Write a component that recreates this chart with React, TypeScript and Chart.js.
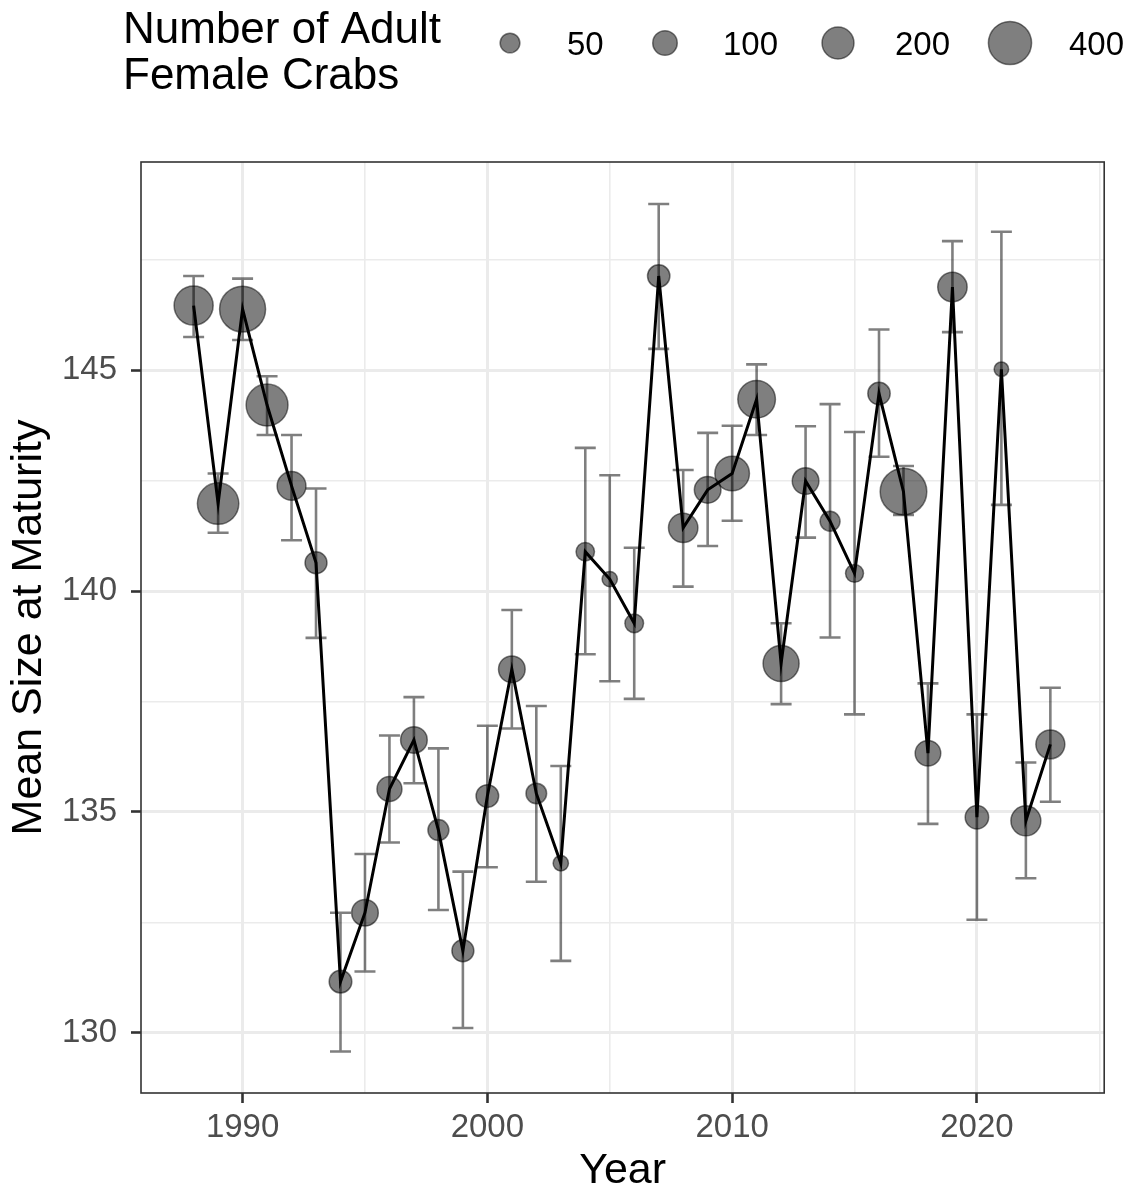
import React, { useEffect, useRef } from "react";
import { Chart, registerables } from "chart.js";

Chart.register(...registerables);

// ---------------- data ----------------
const years = [
  1988, 1989, 1990, 1991, 1992, 1993, 1994, 1995, 1996, 1997, 1998, 1999,
  2000, 2001, 2002, 2003, 2004, 2005, 2006, 2007, 2008, 2009, 2010, 2011,
  2012, 2013, 2014, 2015, 2016, 2017, 2018, 2019, 2020, 2021, 2022, 2023,
];
const meanSize = [
  146.46, 141.98, 146.38, 144.21, 142.38, 140.64, 131.16, 132.72, 135.52, 136.63, 134.59, 131.86,
  135.36, 138.23, 135.42, 133.84, 140.89, 140.27, 139.27, 147.13, 141.43, 142.29, 142.66, 144.34,
  138.36, 142.49, 141.58, 140.4, 144.47, 142.25, 136.33, 146.88, 134.88, 145.02, 134.8, 136.53,
];
const upperCI = [
  147.13, 142.66, 147.07, 144.86, 143.53, 142.32, 132.72, 134.05, 136.73, 137.6, 136.44, 133.65,
  136.95, 139.57, 137.4, 136.04, 143.24, 142.62, 140.98, 148.76, 142.74, 143.58, 143.74, 145.13,
  139.27, 143.73, 144.23, 143.6, 145.92, 142.83, 137.91, 147.92, 137.21, 148.13, 136.12, 137.81,
];
const lowerCI = [
  145.75, 141.32, 145.68, 143.53, 141.15, 138.94, 129.58, 131.39, 134.31, 135.65, 132.78, 130.11,
  133.75, 136.89, 133.42, 131.63, 138.57, 137.96, 137.56, 145.48, 140.1, 141.02, 141.59, 143.53,
  137.44, 141.21, 138.95, 137.21, 143.04, 141.72, 134.73, 145.86, 132.56, 141.95, 133.5, 135.23,
];
const crabCount = [
  320, 365, 460, 375, 155, 72, 79, 126, 106, 126, 62, 72,
  79, 126, 58, 13, 38, 13, 40, 76, 163, 126, 242, 294,
  266, 126, 52, 34, 76, 474, 113, 163, 88, 7, 171, 157,
];
const legendCounts = [50, 100, 200, 400];
const xMajorTicks = [1990, 2000, 2010, 2020];
const xMinorTicks = [1995, 2005, 2015, 2025];
const yMajorTicks = [130, 135, 140, 145];
const yMinorTicks = [132.5, 137.5, 142.5, 147.5];

// ---------------- style ----------------
const W = 1129;
const H = 1197;
const FONT = "'Liberation Sans', Arial, Helvetica, sans-serif";
const POINT_FILL = "rgba(0,0,0,0.5)";

function sizeToRadius(n: number) {
  return Math.sqrt(45 + 1.05 * n);
}

const errorBarPlugin = {
  id: "errorBars",
  beforeDatasetsDraw(chart: any) {
    const { ctx, chartArea } = chart;
    const xs = chart.scales.x;
    const ys = chart.scales.y;
    ctx.save();
    ctx.beginPath();
    ctx.rect(chartArea.left, chartArea.top, chartArea.right - chartArea.left, chartArea.bottom - chartArea.top);
    ctx.clip();
    ctx.strokeStyle = POINT_FILL;
    ctx.lineWidth = 2.6;
    ctx.lineCap = "butt";
    const half = 10.5;
    years.forEach((yr, i) => {
      const px = xs.getPixelForValue(yr);
      const pt = ys.getPixelForValue(upperCI[i]);
      const pb = ys.getPixelForValue(lowerCI[i]);
      ctx.beginPath();
      ctx.moveTo(px - half, pt);
      ctx.lineTo(px + half, pt);
      ctx.moveTo(px, pt);
      ctx.lineTo(px, pb);
      ctx.moveTo(px - half, pb);
      ctx.lineTo(px + half, pb);
      ctx.stroke();
    });
    ctx.restore();
  },
};

const panelBorderPlugin = {
  id: "panelBorder",
  afterDraw(chart: any) {
    const { ctx, chartArea } = chart;
    ctx.save();
    ctx.strokeStyle = "#333333";
    ctx.lineWidth = 1.6;
    ctx.strokeRect(chartArea.left, chartArea.top, chartArea.right - chartArea.left, chartArea.bottom - chartArea.top);
    ctx.restore();
  },
};

const legendKeyX = [510, 665, 838, 1010];
const legendLabelX = [567, 723, 895, 1069];

const sizeLegendPlugin = {
  id: "sizeLegend",
  afterDraw(chart: any) {
    const { ctx } = chart;
    ctx.save();
    ctx.fillStyle = "#000";
    ctx.textBaseline = "alphabetic";
    ctx.textAlign = "left";
    ctx.font = `44px ${FONT}`;
    ctx.fillText("Number of Adult", 123, 43);
    ctx.fillText("Female Crabs", 123, 89);
    legendCounts.forEach((n, i) => {
      ctx.beginPath();
      ctx.arc(legendKeyX[i], 43, sizeToRadius(n), 0, Math.PI * 2);
      ctx.fillStyle = POINT_FILL;
      ctx.fill();
      ctx.strokeStyle = POINT_FILL;
      ctx.lineWidth = 1.5;
      ctx.stroke();
      ctx.fillStyle = "#000";
      ctx.font = `33px ${FONT}`;
      ctx.fillText(String(n), legendLabelX[i], 55);
    });
    ctx.restore();
  },
};

export default function App() {
  const canvasRef = useRef<HTMLCanvasElement | null>(null);

  useEffect(() => {
    if (!canvasRef.current) return;
    const pts = years.map((yr, i) => ({ x: yr, y: meanSize[i] }));
    const xAll = [...xMajorTicks, ...xMinorTicks].sort((a, b) => a - b);
    const yAll = [...yMajorTicks, ...yMinorTicks].sort((a, b) => a - b);

    const chart = new Chart(canvasRef.current, {
      type: "scatter",
      data: {
        datasets: [
          {
            type: "line",
            data: pts,
            borderColor: "#000000",
            borderWidth: 3,
            pointRadius: 0,
            tension: 0,
            order: 1,
          } as any,
          {
            type: "scatter",
            data: pts,
            pointRadius: (c: any) => sizeToRadius(crabCount[c.dataIndex]),
            pointHoverRadius: (c: any) => sizeToRadius(crabCount[c.dataIndex]),
            backgroundColor: POINT_FILL,
            borderColor: POINT_FILL,
            borderWidth: 1.5,
            order: 2,
          } as any,
        ],
      },
      options: {
        animation: false,
        responsive: false,
        devicePixelRatio: 1,
        events: [],
        layout: { padding: { top: 162, right: 24, left: 0, bottom: 0 } },
        plugins: {
          legend: { display: false },
          tooltip: { enabled: false },
        },
        scales: {
          x: {
            type: "linear",
            min: 1985.85,
            max: 2025.2,
            afterBuildTicks: (s: any) => {
              s.ticks = xAll.map((v) => ({ value: v }));
            },
            afterFit: (s: any) => {
              s.height = 104;
            },
            border: { display: false },
            grid: {
              color: "#ebebeb",
              lineWidth: (c: any) => (xMajorTicks.includes(c.tick?.value) ? 3 : 1.6),
              tickColor: (c: any) => (xMajorTicks.includes(c.tick?.value) ? "#333333" : "rgba(0,0,0,0)"),
              tickWidth: 2.6,
              tickLength: 10,
              drawTicks: true,
            },
            ticks: {
              autoSkip: false,
              maxRotation: 0,
              padding: 5,
              color: "#4d4d4d",
              font: { family: FONT, size: 33 },
              callback: (v: any) => (xMajorTicks.includes(Number(v)) ? String(v) : ""),
            },
            title: {
              display: true,
              text: "Year",
              color: "#000",
              font: { family: FONT, size: 43 },
              padding: { top: 0, bottom: 0 },
            },
          },
          y: {
            type: "linear",
            min: 128.64,
            max: 149.71,
            afterBuildTicks: (s: any) => {
              s.ticks = yAll.map((v) => ({ value: v }));
            },
            afterFit: (s: any) => {
              s.width = 141;
            },
            border: { display: false },
            grid: {
              color: "#ebebeb",
              lineWidth: (c: any) => (yMajorTicks.includes(c.tick?.value) ? 3 : 1.6),
              tickColor: (c: any) => (yMajorTicks.includes(c.tick?.value) ? "#333333" : "rgba(0,0,0,0)"),
              tickWidth: 2.6,
              tickLength: 10,
              drawTicks: true,
            },
            ticks: {
              autoSkip: false,
              padding: 14,
              color: "#4d4d4d",
              font: { family: FONT, size: 33 },
              callback: (v: any) => (yMajorTicks.includes(Number(v)) ? String(v) : ""),
            },
            title: {
              display: true,
              text: "Mean Size at Maturity",
              color: "#000",
              font: { family: FONT, size: 43 },
              padding: { top: 3, bottom: 0 },
            },
          },
        },
      },
      plugins: [errorBarPlugin, panelBorderPlugin, sizeLegendPlugin],
    } as any);

    return () => chart.destroy();
  }, []);

  return (
    <div style={{ position: "fixed", left: 0, top: 0, width: W, height: H, background: "#fff" }}>
      <canvas ref={canvasRef} width={W} height={H} style={{ width: W, height: H, display: "block" }} />
    </div>
  );
}
